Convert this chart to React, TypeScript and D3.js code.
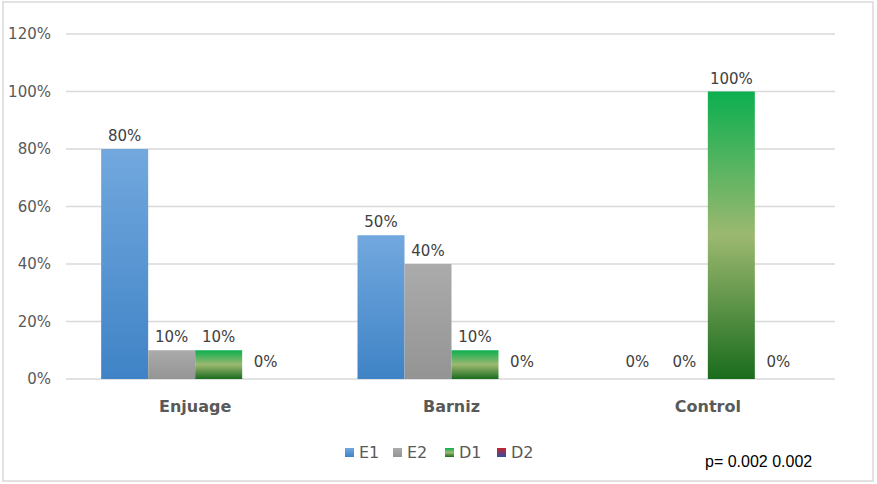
import React from "react";
import * as d3 from "d3";

const categories = ["Enjuage", "Barniz", "Control"];
const seriesNames = ["E1", "E2", "D1", "D2"];
const E1 = [0.8, 0.5, 0];
const E2 = [0.1, 0.4, 0];
const D1 = [0.1, 0.1, 1.0];
const D2 = [0, 0, 0];
const yTicks = [0, 0.2, 0.4, 0.6, 0.8, 1.0, 1.2];
const pText = "p= 0.002 0.002";

const W = 877;
const H = 484;
const FONT = "'DejaVu Sans', sans-serif";

export default function App() {
  const seriesValues = [E1, E2, D1, D2];
  const y = d3.scaleLinear().domain([0, 1.2]).range([379, 34]);
  const x0 = d3.scaleBand<string>().domain(categories).range([67, 836]).paddingInner(0).paddingOuter(0);
  const x1 = d3
    .scaleBand<string>()
    .domain(seriesNames)
    .range([0, x0.bandwidth()])
    .paddingInner(0)
    .paddingOuter(0.727);
  const fills = ["url(#gE1)", "url(#gE2)", "url(#gD1)", "url(#gD2)"];
  const fmt = d3.format(".0%");

  const legendX = [345, 393, 445, 497];

  return (
    <svg
      width={W}
      height={H}
      style={{ position: "absolute", left: 0, top: 0, background: "#fff" }}
      fontFamily={FONT}
    >
      <defs>
        <linearGradient id="gE1" x1="0" y1="0" x2="0" y2="1">
          <stop offset="0" stopColor="#72a8de" />
          <stop offset="1" stopColor="#3f83c6" />
        </linearGradient>
        <linearGradient id="gE2" x1="0" y1="0" x2="0" y2="1">
          <stop offset="0" stopColor="#ababab" />
          <stop offset="1" stopColor="#949494" />
        </linearGradient>
        <linearGradient id="gD1" x1="0" y1="0" x2="0" y2="1">
          <stop offset="0" stopColor="#0caf50" />
          <stop offset="0.5" stopColor="#9cb870" />
          <stop offset="1" stopColor="#1a6c1d" />
        </linearGradient>
        <linearGradient id="gD2" x1="0" y1="0" x2="0" y2="1">
          <stop offset="0" stopColor="#c8232c" />
          <stop offset="1" stopColor="#2c4fa3" />
        </linearGradient>
      </defs>
      <rect x={0} y={0} width={W} height={H} fill="#fff" />
      <rect x={3} y={2} width={870} height={479} fill="none" stroke="#d9d9d9" strokeWidth={1.5} />

      {yTicks.map((t) => (
        <g key={t}>
          <line x1={66} x2={835} y1={y(t)} y2={y(t)} stroke="#d9d9d9" strokeWidth={1.5} />
          <text x={51} y={y(t)} dy="0.35em" textAnchor="end" fontSize={15} fill="#595959">
            {fmt(t)}
          </text>
        </g>
      ))}

      {categories.map((c, ci) => (
        <g key={c} transform={`translate(${x0(c)},0)`}>
          {seriesNames.map((s, si) => {
            const v = seriesValues[si][ci];
            const bx = x1(s)!;
            const bw = x1.bandwidth();
            return (
              <g key={s}>
                {v > 0 && (
                  <rect x={bx} y={y(v)} width={bw} height={y(0) - y(v)} fill={fills[si]} />
                )}
                <text
                  x={bx + bw / 2}
                  y={y(v) - (v > 0 ? 8 : 12)}
                  textAnchor="middle"
                  fontSize={15}
                  fill="#404040"
                >
                  {fmt(v)}
                </text>
              </g>
            );
          })}
          <text
            x={x0.bandwidth() / 2}
            y={412}
            textAnchor="middle"
            fontSize={16}
            fontWeight="bold"
            fill="#595959"
          >
            {c}
          </text>
        </g>
      ))}

      {seriesNames.map((s, si) => (
        <g key={s}>
          <rect x={legendX[si]} y={448} width={9} height={9} fill={fills[si]} />
          <text x={legendX[si] + 14} y={458} fontSize={16} fill="#595959">
            {s}
          </text>
        </g>
      ))}

      <text x={705} y={467} fontSize={16} fontFamily="'Liberation Sans', Arial, sans-serif" fill="#000">
        {pText}
      </text>
    </svg>
  );
}
